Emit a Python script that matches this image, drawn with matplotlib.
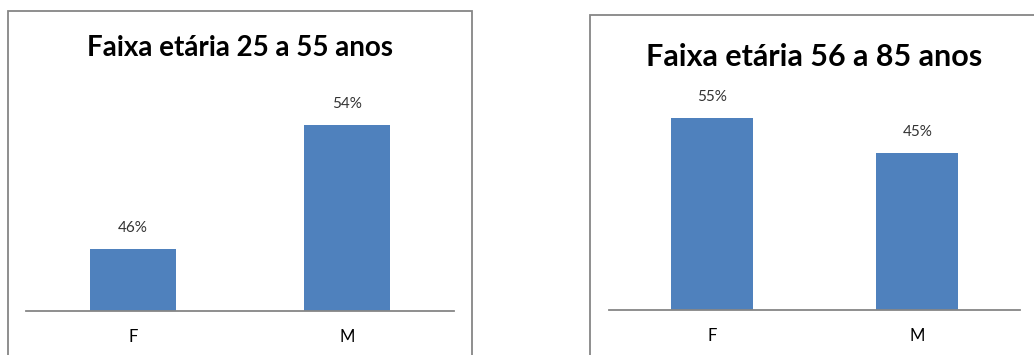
import matplotlib.pyplot as plt
from matplotlib.patches import Rectangle

sexo = ["F", "M"]
grupo1_titulo = "Faixa etária 25 a 55 anos"
grupo1_valores = [46, 54]
grupo2_titulo = "Faixa etária 56 a 85 anos"
grupo2_valores = [55, 45]

azul = "#4F81BD"
cinza = "#868686"
fonte = "Lato"

fig = plt.figure(figsize=(10.34, 3.55), dpi=100)

# molduras dos dois graficos
fig.patches.append(Rectangle((8 / 1034, -0.1), 464 / 1034, 1.07, transform=fig.transFigure,
                             fill=False, edgecolor=cinza, linewidth=1.3))
fig.patches.append(Rectangle((590 / 1034, -0.1), 0.5, 1.058, transform=fig.transFigure,
                             fill=False, edgecolor=cinza, linewidth=1.3))


def grafico(pos, titulo, valores, ylim, titulo_y, titulo_tam):
    ax = fig.add_axes(pos)
    x = range(len(sexo))
    ax.bar(x, valores, width=0.4, color=azul)
    for xi, v in zip(x, valores):
        ax.annotate(f"{v}%", (xi, v), xytext=(0, 10), textcoords="offset points",
                    ha="center", va="bottom", fontsize=11, family=fonte, color="#333333")
    ax.set_xlim(-0.5, 1.5)
    ax.set_ylim(*ylim)
    ax.set_xticks(list(x))
    ax.set_xticklabels(sexo, fontsize=12, family=fonte)
    ax.tick_params(axis="x", length=0, pad=13)
    ax.set_yticks([])
    for s in ["top", "right", "left"]:
        ax.spines[s].set_visible(False)
    ax.spines["bottom"].set_color(cinza)
    ax.spines["bottom"].set_linewidth(1.3)
    cx = pos[0] + pos[2] / 2
    fig.text(cx, titulo_y, titulo, ha="center", va="center", fontsize=titulo_tam,
             fontweight="bold", family=fonte)
    return ax


grafico([26 / 1034, 44 / 355, 428 / 1034, 217 / 355], grupo1_titulo, grupo1_valores,
        (42, 56), 1 - 48 / 355, 20)
grafico([609 / 1034, 45 / 355, 411 / 1034, 210 / 355], grupo2_titulo, grupo2_valores,
        (0, 60), 1 - 57 / 355, 22)

fig.savefig("out.png", dpi=100)
